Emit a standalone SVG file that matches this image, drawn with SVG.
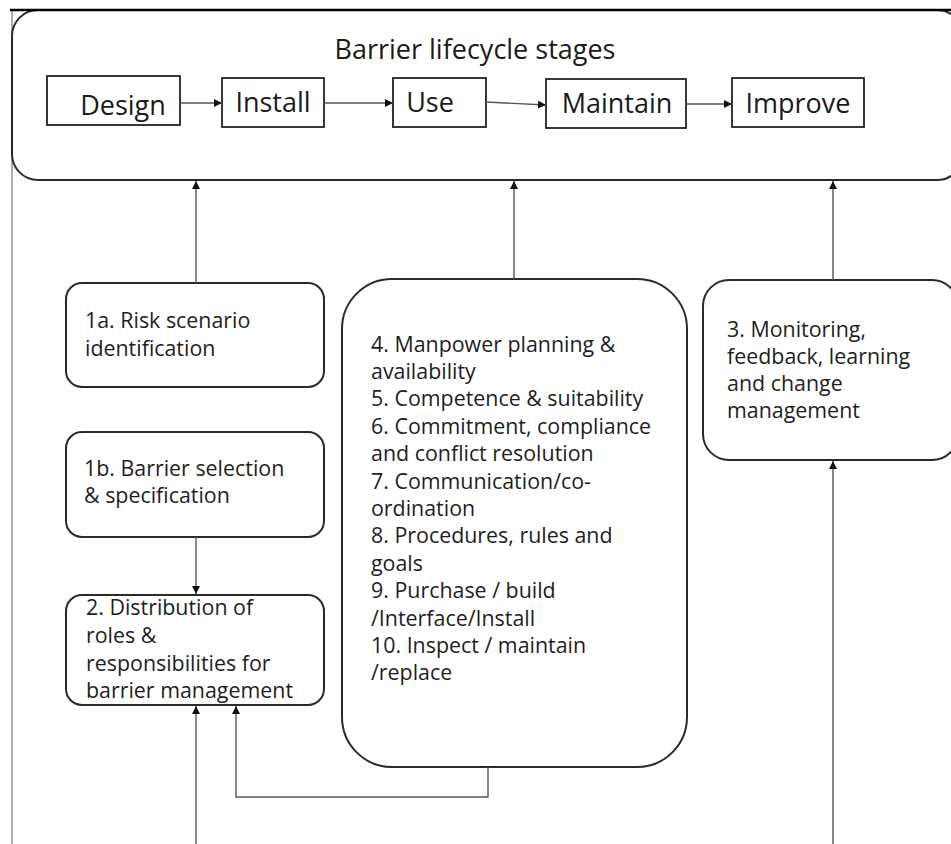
<svg xmlns="http://www.w3.org/2000/svg" width="951" height="844" viewBox="0 0 951 844">
  <defs>
    <marker id="arrow" markerUnits="userSpaceOnUse" markerWidth="9" markerHeight="8" refX="8" refY="4" orient="auto">
      <path d="M0,0 L8,4 L0,8 Z" fill="#111"/>
    </marker>
    <style>
      .box { fill: #fff; stroke: #2a2a2a; stroke-width: 2; }
      .stage { fill: #fff; stroke: #222; stroke-width: 1.8; }
      .conn { fill: none; stroke: #555; stroke-width: 1.4; }
      .body { font-family: "Open Sans", "Liberation Sans", sans-serif; font-size: 21.4px; fill: #1e1e1e; }
      .big { font-family: "Open Sans", "Liberation Sans", sans-serif; font-size: 27px; fill: #1a1a1a; }
    </style>
  </defs>

  <rect width="951" height="844" fill="#fff"/>

  <!-- page frame -->
  <g id="frame">
    <line x1="12" y1="10" x2="12" y2="844" stroke="#777" stroke-width="1.2"/>
  </g>

  <!-- lifecycle container -->
  <g id="lifecycle">
    <rect class="box" x="12" y="10" width="951" height="170" rx="26"/>
    <line x1="10" y1="10" x2="951" y2="10" stroke="#000" stroke-width="2.4"/>
    <text class="big" x="475" y="59" text-anchor="middle">Barrier lifecycle stages</text>
  </g>

  <g id="design">
    <rect class="stage" x="47" y="76" width="133" height="49"/>
    <text class="big" x="123" y="115" text-anchor="middle">Design</text>
  </g>
  <g id="install">
    <rect class="stage" x="222" y="78" width="102" height="49"/>
    <text class="big" x="273" y="112" text-anchor="middle">Install</text>
  </g>
  <g id="use">
    <rect class="stage" x="393" y="78" width="93" height="49"/>
    <text class="big" x="430" y="112" text-anchor="middle">Use</text>
  </g>
  <g id="maintain">
    <rect class="stage" x="546" y="79" width="140" height="49"/>
    <text class="big" x="617" y="113" text-anchor="middle">Maintain</text>
  </g>
  <g id="improve">
    <rect class="stage" x="732" y="78" width="132" height="49"/>
    <text class="big" x="798" y="113" text-anchor="middle">Improve</text>
  </g>

  <!-- factor boxes -->
  <g id="risk-scenario">
    <rect class="box" x="66" y="283" width="258" height="104" rx="16"/>
    <text class="body" x="85" y="328">1a. Risk scenario</text>
    <text class="body" x="85" y="356">identification</text>
  </g>

  <g id="barrier-selection">
    <rect class="box" x="66" y="432" width="258" height="105" rx="16"/>
    <text class="body" x="84" y="476">1b. Barrier selection</text>
    <text class="body" x="84" y="503">&amp; specification</text>
  </g>

  <g id="roles">
    <rect class="box" x="66" y="595" width="258" height="110" rx="16"/>
    <text class="body" x="86" y="615">2. Distribution of</text>
    <text class="body" x="86" y="643">roles &amp;</text>
    <text class="body" x="86" y="671">responsibilities for</text>
    <text class="body" x="86" y="698">barrier management</text>
  </g>

  <g id="delivery-systems">
    <rect class="box" x="342" y="279" width="345" height="488" rx="50"/>
    <text class="body" x="371" y="351.5">4. Manpower planning &amp;</text>
    <text class="body" x="371" y="378.9">availability</text>
    <text class="body" x="371" y="406.3">5. Competence &amp; suitability</text>
    <text class="body" x="371" y="433.7">6. Commitment, compliance</text>
    <text class="body" x="371" y="461.1">and conflict resolution</text>
    <text class="body" x="371" y="488.5">7. Communication/co-</text>
    <text class="body" x="371" y="515.9">ordination</text>
    <text class="body" x="371" y="543.3">8. Procedures, rules and</text>
    <text class="body" x="371" y="570.7">goals</text>
    <text class="body" x="371" y="598.1">9. Purchase / build</text>
    <text class="body" x="371" y="625.5">/Interface/Install</text>
    <text class="body" x="371" y="652.9">10. Inspect / maintain</text>
    <text class="body" x="371" y="680.3">/replace</text>
  </g>

  <g id="monitoring">
    <rect class="box" x="703" y="280" width="255" height="180" rx="26"/>
    <text class="body" x="727" y="337">3. Monitoring,</text>
    <text class="body" x="727" y="364">feedback, learning</text>
    <text class="body" x="727" y="391">and change</text>
    <text class="body" x="727" y="418">management</text>
  </g>

  <!-- connectors -->
  <g id="connectors">
    <path class="conn" d="M180,103 H222" marker-end="url(#arrow)"/>
    <path class="conn" d="M324,103 H393" marker-end="url(#arrow)"/>
    <path class="conn" d="M486,102 L546,105" marker-end="url(#arrow)"/>
    <path class="conn" d="M686,104 H732" marker-end="url(#arrow)"/>

    <path class="conn" d="M196,283 V181" marker-end="url(#arrow)"/>
    <path class="conn" d="M514,279 V181" marker-end="url(#arrow)"/>
    <path class="conn" d="M833,280 V181" marker-end="url(#arrow)"/>

    <path class="conn" d="M196,537 V594" marker-end="url(#arrow)"/>
    <path class="conn" d="M196,844 V706" marker-end="url(#arrow)"/>
    <path class="conn" d="M488,767 V797 H236 V706" marker-end="url(#arrow)"/>
    <path class="conn" d="M833,844 V461" marker-end="url(#arrow)"/>
  </g>
</svg>
